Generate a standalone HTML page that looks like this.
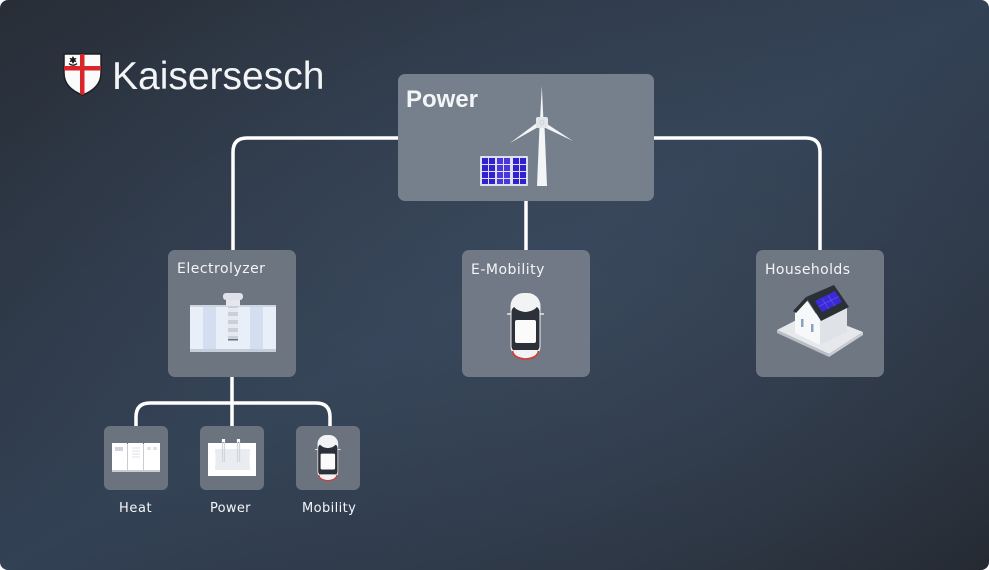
<!DOCTYPE html>
<html><head><meta charset="utf-8"><style>
html,body{margin:0;padding:0;background:#fff;}
#wrap{position:relative;width:989px;height:570px;border-radius:8px;overflow:hidden;
background:radial-gradient(ellipse 600px 400px at 560px 290px, rgba(62,78,98,0.55), rgba(62,78,98,0) 100%),
linear-gradient(to bottom right,#282e37 0%,#334155 50%,#252a32 100%);}
svg{position:absolute;left:0;top:0;}
text{font-family:"DejaVu Sans","Liberation Sans",sans-serif;fill:#f4f5f7;}
</style></head><body>
<div id="wrap">
<svg width="989" height="570" viewBox="0 0 989 570" xmlns="http://www.w3.org/2000/svg">
<defs>
<clipPath id="shc"><path d="M64,54 H101 V73 Q101,88 82.5,95 Q64,88 64,73 Z"/></clipPath>
<g id="car">
  <line x1="-3.5" y1="21" x2="33.5" y2="21" stroke="#e4e6ea" stroke-width="1.6"/>
  <rect x="0" y="0" width="30" height="66" rx="13" fill="#f2f3f5"/>
  <rect x="1" y="13" width="28" height="46" rx="6" fill="#2c3139"/>
  <path d="M3,13 H27 Q24,18 15,19 Q6,18 3,13 Z" fill="#f2f3f5"/>
  <rect x="4.5" y="27" width="21" height="23" rx="2" fill="#fbfbfc"/>
  <path d="M3,57 H27 Q27,64 15,65.5 Q3,64 3,57 Z" fill="#f2f3f5"/>
  <path d="M2,58 Q3,65 15,66 Q27,65 28,58" fill="none" stroke="#d8392c" stroke-width="1.6"/>
</g>
</defs>

<!-- connectors -->
<g fill="none" stroke="#ffffff" stroke-width="3.5">
  <path d="M398,138 H247 Q233,138 233,152 V250"/>
  <path d="M654,138 H806 Q820,138 820,152 V250"/>
  <path d="M526,201 V250"/>
  <path d="M232,377 V426"/>
  <path d="M136,426 V417 Q136,403 150,403 H316 Q330,403 330,417 V426"/>
</g>

<!-- logo -->
<path d="M64,54 H101 V73 Q101,88 82.5,95 Q64,88 64,73 Z" fill="#fbfbfb" stroke="#1d1f24" stroke-width="1.5"/>
<g clip-path="url(#shc)">
  <rect x="80" y="50" width="4.5" height="50" fill="#d8262a"/>
  <rect x="60" y="66" width="45" height="4.5" fill="#d8262a"/>
</g>
<path d="M73,56 L74.2,58.2 L76.6,58 L75.2,60 L76.6,62 L74.2,61.8 L73,64 L71.8,61.8 L69.4,62 L70.8,60 L69.4,58 L71.8,58.2 Z" fill="#1b1b1b"/>
<path d="M69,63.5 Q73,67 77,63.5" fill="none" stroke="#1b1b1b" stroke-width="1.2"/>
<text x="112" y="89" style="font-family:'Liberation Sans',sans-serif;font-size:39px;fill:#f3f4f6;">Kaisersesch</text>

<!-- Power box -->
<rect x="398" y="74" width="256" height="127" rx="7" fill="#76808c"/>
<text x="406" y="107" style="font-family:'Liberation Sans',sans-serif;font-weight:bold;font-size:24px;">Power</text>
<!-- solar panel -->
<rect x="480" y="156" width="48" height="30" rx="1" fill="#dde1e8"/>
<g fill="#3020d4">
  <rect x="482" y="158" width="6" height="6"/><rect x="489" y="158" width="6" height="6"/>
  <rect x="482" y="165" width="6" height="6"/><rect x="489" y="165" width="6" height="6"/>
  <rect x="482" y="172" width="6" height="6"/><rect x="489" y="172" width="6" height="6"/>
  <rect x="482" y="179" width="6" height="5"/><rect x="489" y="179" width="6" height="5"/>
  <rect x="497" y="158" width="6" height="6" fill="#4b36e0"/><rect x="504" y="158" width="6" height="6" fill="#4b36e0"/>
  <rect x="497" y="165" width="6" height="6" fill="#4b36e0"/><rect x="504" y="165" width="6" height="6" fill="#4b36e0"/>
  <rect x="497" y="172" width="6" height="6" fill="#4b36e0"/><rect x="504" y="172" width="6" height="6" fill="#4b36e0"/>
  <rect x="497" y="179" width="6" height="5" fill="#4b36e0"/><rect x="504" y="179" width="6" height="5" fill="#4b36e0"/>
  <rect x="513" y="158" width="6" height="6"/><rect x="520" y="158" width="6" height="6"/>
  <rect x="513" y="165" width="6" height="6"/><rect x="520" y="165" width="6" height="6"/>
  <rect x="513" y="172" width="6" height="6"/><rect x="520" y="172" width="6" height="6"/>
  <rect x="513" y="179" width="6" height="5"/><rect x="520" y="179" width="6" height="5"/>
</g>
<!-- wind turbine -->
<polygon points="537,186 547,186 544.5,126 539.5,126" fill="#f4f5f7"/>
<polygon points="540,121 543.5,121 541.8,86" fill="#f4f5f7"/>
<polygon points="538,122 540,126 510,143" fill="#f4f5f7"/>
<polygon points="544,122 542.5,126.5 573,141" fill="#f4f5f7"/>
<rect x="536" y="117" width="12" height="11" rx="2" fill="#e3e6ea"/>
<circle cx="542" cy="122.5" r="2" fill="none" stroke="#c9cdd3" stroke-width="0.8"/>

<!-- Electrolyzer box -->
<rect x="168" y="250" width="128" height="127" rx="7" fill="#6d7580"/>
<text x="177" y="273" style="font-size:14px;letter-spacing:0.5px;">Electrolyzer</text>
<rect x="190" y="305" width="86" height="47" fill="#e9eff9"/>
<rect x="203" y="307" width="13" height="43" fill="#d3dff0"/>
<rect x="250" y="307" width="13" height="43" fill="#d3dff0"/>
<rect x="190" y="349" width="86" height="3" fill="#c6ced9"/>
<rect x="190" y="305" width="86" height="2" fill="#cfd6e0"/>
<rect x="226" y="300" width="14" height="6" fill="#e4e8ee"/>
<rect x="223" y="293" width="20" height="7" rx="3" fill="#dfe3e9"/>
<rect x="228" y="306" width="10" height="34" fill="#c9d0da"/>
<g fill="#e6eaf0">
  <rect x="228" y="308" width="10" height="4"/><rect x="228" y="316" width="10" height="4"/>
  <rect x="228" y="324" width="10" height="4"/><rect x="228" y="332" width="10" height="4"/>
</g>
<rect x="228" y="339" width="10" height="1.5" fill="#6a717c"/>

<!-- E-Mobility box -->
<rect x="462" y="250" width="128" height="127" rx="7" fill="#707985"/>
<text x="471" y="274" style="font-size:14px;letter-spacing:0.5px;">E-Mobility</text>
<use href="#car" x="510.5" y="293"/>

<!-- Households box -->
<rect x="756" y="250" width="128" height="127" rx="7" fill="#6f7782"/>
<text x="765" y="274" style="font-size:14px;letter-spacing:0.4px;">Households</text>
<polygon points="777,330 812,312 863,332 829,354" fill="#e6e8ec"/>
<polygon points="777,330 829,354 829,357 777,333" fill="#b9bec6"/>
<polygon points="829,354 863,332 863,335 829,357" fill="#c9cdd3"/>
<polygon points="820,320 847,307 847,332 820,345" fill="#dfe2e7"/>
<polygon points="795,333 795,309 806,299 820,320 820,345" fill="#f7f8fa"/>
<polygon points="806,297 821,321 849,307 834,285" fill="#2b2f36"/>
<polygon points="793,311 806,297 808,300 796,313" fill="#2b2f36"/>
<polygon points="815,301 822,312 842,302 835,291" fill="#3a2ad8"/>
<g stroke="#6a5cf0" stroke-width="0.6">
  <line x1="818.5" y1="306.5" x2="838.5" y2="296.5"/>
  <line x1="822" y1="298.5" x2="829" y2="309"/>
  <line x1="828" y1="295.5" x2="835" y2="306"/>
</g>
<rect x="801" y="319" width="2.5" height="8" fill="#8aa2c0"/>
<rect x="811" y="324" width="2.5" height="8" fill="#8aa2c0"/>

<!-- small boxes -->
<rect x="104" y="426" width="64" height="64" rx="6" fill="#6b737e"/>
<rect x="200" y="426" width="64" height="64" rx="6" fill="#6b737e"/>
<rect x="296" y="426" width="64" height="64" rx="6" fill="#6b737e"/>

<!-- Heat icon -->
<rect x="112" y="444" width="48" height="28" fill="#c8ccd3"/>
<rect x="112" y="443" width="15" height="27" fill="#ffffff"/>
<rect x="128" y="443" width="15" height="27" fill="#ffffff"/>
<rect x="144" y="443" width="16" height="27" fill="#ffffff"/>
<rect x="115" y="447" width="8" height="4" fill="#cfd3da"/>
<g stroke="#d6d9df" stroke-width="0.8">
  <line x1="132" y1="448" x2="140" y2="448"/><line x1="132" y1="451" x2="140" y2="451"/>
  <line x1="132" y1="454" x2="140" y2="454"/><line x1="132" y1="457" x2="140" y2="457"/>
</g>
<rect x="147" y="447" width="4" height="3" fill="#dfe2e7"/><rect x="153" y="447" width="4" height="3" fill="#dfe2e7"/>

<!-- Power small icon -->
<rect x="208" y="443" width="48" height="33" fill="#ffffff"/>
<path d="M215,449 Q216,459 215,470 H250 Q249,459 250,449 Z" fill="#e9ecf0"/>
<g stroke="#d3d7dd" stroke-width="1.2">
  <line x1="222.5" y1="439" x2="222.5" y2="462"/><line x1="224.5" y1="439" x2="224.5" y2="462"/>
  <line x1="237.5" y1="439" x2="237.5" y2="462"/><line x1="239.5" y1="439" x2="239.5" y2="462"/>
</g>
<rect x="222" y="439" width="3" height="3" fill="#ffffff"/><rect x="237" y="439" width="3" height="3" fill="#ffffff"/>

<!-- Mobility small car -->
<g transform="translate(317.5,435) scale(0.69)"><use href="#car"/></g>

<text x="119" y="512" style="font-size:13px;letter-spacing:0.6px;">Heat</text>
<text x="210" y="512" style="font-size:13px;letter-spacing:0.3px;">Power</text>
<text x="302" y="512" style="font-size:13px;letter-spacing:0.4px;">Mobility</text>
</svg>
</div>
</body></html>
